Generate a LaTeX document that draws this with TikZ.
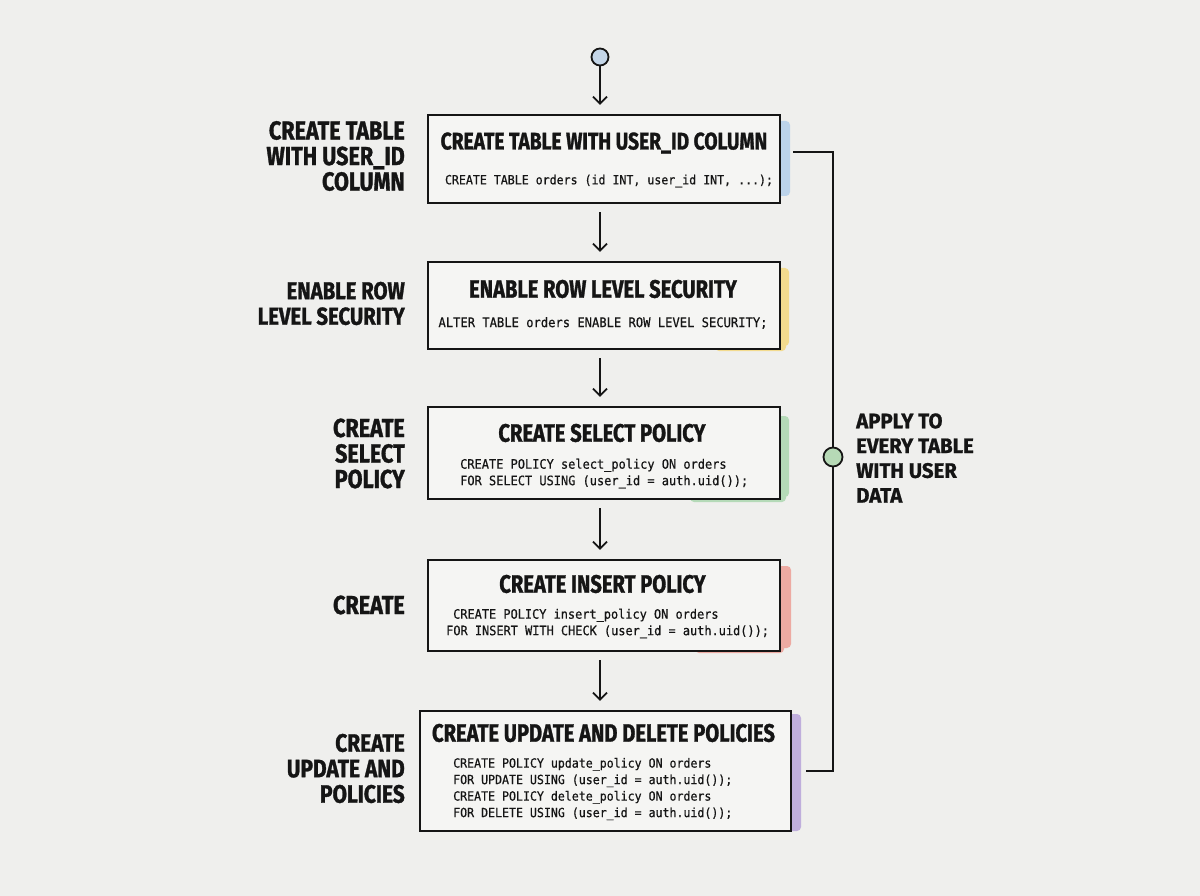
\documentclass[tikz,border=0pt]{standalone}
\usepackage{fontspec}
\usetikzlibrary{arrows.meta}
\newfontfamily\titlef[FakeStretch=0.8,FakeBold=1.2]{Fira Sans Bold}
\newfontfamily\labf[FakeStretch=0.83,FakeBold=1.2]{Fira Sans Bold}
\newfontfamily\sidef[FakeStretch=0.97,FakeBold=1]{Fira Sans Bold}
\newfontfamily\codef[FakeStretch=0.92,FakeBold=0.6]{DejaVu Sans Mono}
\definecolor{bg}{HTML}{EFEFED}
\definecolor{boxbg}{HTML}{F5F5F3}
\definecolor{ink}{HTML}{151515}
\definecolor{acblue}{HTML}{BCD3EA}
\definecolor{acyellow}{HTML}{F3DB8E}
\definecolor{acgreen}{HTML}{B5DAB8}
\definecolor{acred}{HTML}{EDAAA2}
\definecolor{acpurple}{HTML}{BFAEDC}
\definecolor{startc}{HTML}{C4D6E8}
\definecolor{midc}{HTML}{B6D9B6}
\tikzset{
  stepbox/.style={draw=ink, line width=2.3pt, fill=boxbg, inner sep=0pt},
  ttl/.style={font=\titlef\fontsize{24}{26}\selectfont, text=ink, inner sep=0pt},
  ttlb/.style={font=\titlef\fontsize{25.2}{27}\selectfont, text=ink, inner sep=0pt},
  code/.style={font=\codef\fontsize{#1}{16.5}\selectfont, text=ink, align=left, inner sep=0pt},
  code/.default=12.6,
  lab/.style={font=\labf\fontsize{#1}{25.5}\selectfont, text=ink, align=right, anchor=east, inner sep=0pt},
  lab/.default=26,
  arr/.style={draw=ink, line width=1.8pt, -{Straight Barb[length=7pt,width=14pt,line width=1.8pt]}},
  accent/.style={rounded corners=4pt, draw=none},
}
\begin{document}
\begin{tikzpicture}[x=1pt,y=-1pt]
\fill[bg] (0,0) rectangle (1200,896);
\useasboundingbox (0,0) rectangle (1200,896);

% accents
\fill[acblue,accent] (772,121) rectangle (790,196);
\fill[acyellow,accent] (772,268) rectangle (789,346);
\fill[acyellow,accent] (715,338) rectangle (786,351);
\fill[acgreen,accent] (772,416) rectangle (789,497);
\fill[acgreen,accent] (690,490) rectangle (786,502);
\fill[acred,accent] (772,566) rectangle (791,648);
\fill[acred,accent] (695,642) rectangle (784,653);
\fill[acpurple,accent] (783,714) rectangle (801,831);

% boxes
\node[stepbox, minimum width=352pt, minimum height=88pt] (b1) at (604,159) {};
\node[stepbox, minimum width=352pt, minimum height=87pt] (b2) at (604,305.5) {};
\node[stepbox, minimum width=352pt, minimum height=92pt] (b3) at (604,453) {};
\node[stepbox, minimum width=352pt, minimum height=91pt] (b4) at (604,605.5) {};
\node[stepbox, minimum width=371pt, minimum height=120pt] (b5) at (605.5,771) {};

% titles
\node[ttl] (t1) at (604,143) {CREATE TABLE WITH USER\_ID COLUMN};
\node[ttlb] (t2) at (603,289) {ENABLE ROW LEVEL SECURITY};
\node[ttlb] (t3) at (602,433) {CREATE SELECT POLICY};
\node[ttlb] (t4) at (602.5,584) {CREATE INSERT POLICY};
\node[ttlb] (t5) at (603.5,733) {CREATE UPDATE AND DELETE POLICIES};

% code
\node[code] (c1) at (609,181) {CREATE TABLE orders (id INT, user\_id INT, ...);};
\node[code=13.2] (c2) at (603,323) {ALTER TABLE orders ENABLE ROW LEVEL SECURITY;};
\node[code=13, anchor=west] (c3) at (460,473.5) {CREATE POLICY select\_policy ON orders\\FOR SELECT USING (user\_id = auth.uid());};
\node[code=12.95, anchor=west] (c4) at (446,623.5) {\hspace*{7pt}CREATE POLICY insert\_policy ON orders\\FOR INSERT WITH CHECK (user\_id = auth.uid());};
\node[code, anchor=west] (c5) at (453,789) {CREATE POLICY update\_policy ON orders\\FOR UPDATE USING (user\_id = auth.uid());\\CREATE POLICY delete\_policy ON orders\\FOR DELETE USING (user\_id = auth.uid());};

% left labels
\node[lab] (l1) at (405,156) {CREATE TABLE\\WITH USER\_ID\\COLUMN};
\node[lab=24.5] (l2) at (405,303.5) {ENABLE ROW\\LEVEL SECURITY};
\node[lab] (l3) at (405,453.5) {CREATE\\SELECT\\POLICY};
\node[lab] (l4) at (405,605) {CREATE};
\node[lab=25.2] (l5) at (405,768.5) {CREATE\\UPDATE AND\\POLICIES};

% start
\node[circle, draw=ink, line width=1.8pt, fill=startc, minimum size=17pt, inner sep=0pt] (s) at (600,57) {};
\coordinate (ax) at (600,0);
\draw[arr] (s.south) -- ([yshift=9pt]b1.north -| ax);
\draw[arr] ([yshift=-8pt]b1.south -| ax) -- ([yshift=9pt]b2.north -| ax);
\draw[arr] ([yshift=-8pt]b2.south -| ax) -- ([yshift=9pt]b3.north -| ax);
\draw[arr] ([yshift=-8pt]b3.south -| ax) -- ([yshift=9pt]b4.north -| ax);
\draw[arr] ([yshift=-8pt]b4.south -| ax) -- ([yshift=9pt]b5.north -| ax);

% loop bracket
\coordinate (rt) at (833,152);
\coordinate (rb) at (833,771);
\draw[ink, line width=2pt] ([xshift=12pt]b1.east |- rt) -- (rt) -- (rb) -- ([xshift=14pt]b5.east |- rb);
\node[circle, draw=ink, line width=1.8pt, fill=midc, minimum size=19pt, inner sep=0pt] (m) at (833,457) {};
\node[font=\sidef\fontsize{21}{24.8}\selectfont, text=ink, align=left, anchor=west, inner sep=0pt] (rl) at (856,458) {APPLY TO\\EVERY TABLE\\WITH USER\\DATA};
\end{tikzpicture}
\end{document}
